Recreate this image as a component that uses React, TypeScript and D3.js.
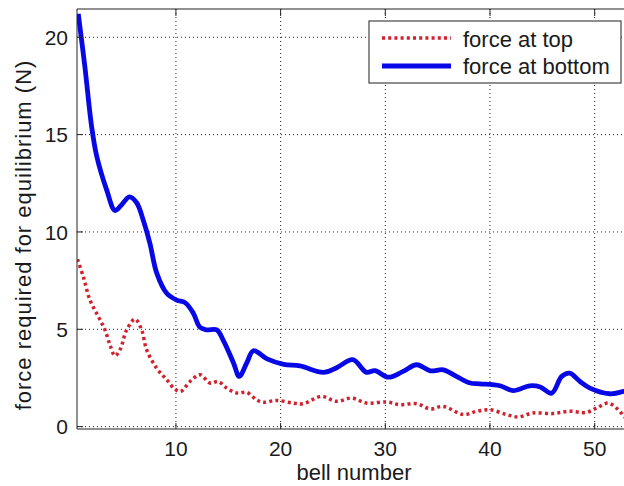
import * as d3 from 'd3';

// bell positions and forces
const bottomBell = [0.67, 1.3, 1.95, 2.43, 3.39, 4.18, 4.82, 5.55, 6.25, 6.88, 7.52, 8.16, 9.12, 10.07, 10.87, 11.66, 12.3, 12.94, 13.9, 14.5, 15.5, 16.05, 16.76, 17.4, 18.7, 20.3, 21.85, 24.1, 25.35, 26.9, 28.2, 29.0, 30.3, 31.7, 33.0, 34.3, 35.55, 36.8, 38.1, 39.05, 40.95, 42.2, 43.8, 44.8, 45.9, 46.85, 47.6, 48.6, 49.55, 51.45, 52.8, 53.4];
const bottomForce = [21.2, 18.5, 15.4, 13.9, 12.15, 11.1, 11.4, 11.8, 11.5, 10.6, 9.4, 7.9, 6.85, 6.5, 6.37, 5.83, 5.1, 4.97, 4.97, 4.46, 3.27, 2.58, 3.27, 3.9, 3.48, 3.2, 3.12, 2.79, 3.03, 3.44, 2.79, 2.88, 2.54, 2.84, 3.18, 2.87, 2.92, 2.58, 2.24, 2.2, 2.1, 1.85, 2.1, 2.04, 1.72, 2.58, 2.75, 2.32, 1.98, 1.69, 1.81, 1.85];

const topBell = [0.6, 1.15, 1.79, 2.58, 3.22, 3.7, 4.18, 4.66, 5.3, 6.09, 6.73, 7.2, 8.16, 9.12, 9.9, 10.45, 11.35, 12.3, 13.25, 14.05, 14.85, 15.8, 16.76, 17.7, 18.35, 19.6, 21.2, 22.17, 23.9, 25.35, 26.8, 28.2, 30.1, 31.4, 33.0, 34.3, 35.55, 37.45, 38.75, 40.0, 41.6, 42.7, 44.1, 46.0, 47.6, 49.2, 50.2, 51.3, 52.25, 52.8, 53.4];
const topForce = [8.6, 7.7, 6.5, 5.66, 4.97, 4.2, 3.64, 3.95, 4.97, 5.52, 4.97, 3.95, 3.0, 2.41, 1.93, 1.81, 2.32, 2.67, 2.24, 2.32, 1.98, 1.73, 1.76, 1.38, 1.25, 1.35, 1.21, 1.18, 1.55, 1.3, 1.47, 1.21, 1.27, 1.13, 1.18, 0.91, 1.04, 0.62, 0.79, 0.87, 0.62, 0.5, 0.7, 0.67, 0.79, 0.73, 0.96, 1.21, 0.87, 0.53, 0.3];

const xTicks = [10, 20, 30, 40, 50];
const yTicks = [0, 5, 10, 15, 20];
const legendLabels = ['force at top', 'force at bottom'];

const W = 624;
const H = 486;
const margin = { top: 9, right: -7, bottom: 57, left: 77 };
const innerW = W - margin.left - margin.right;
const innerH = H - margin.top - margin.bottom;

const font = 'Arial, "Liberation Sans", Helvetica, sans-serif';
const red = '#d2202c';
const blue = '#0808e6';

export default function App() {
  const x = d3.scaleLinear().domain([0.55, 53.47]).range([0, innerW]);
  const y = d3.scaleLinear().domain([-0.12, 21.45]).range([innerH, 0]);

  const line = d3.line<[number, number]>()
    .x(d => x(d[0]))
    .y(d => y(d[1]))
    .curve(d3.curveCatmullRom.alpha(0.5));

  const bottomPts = bottomBell.map((b, i) => [b, bottomForce[i]] as [number, number]);
  const topPts = topBell.map((b, i) => [b, topForce[i]] as [number, number]);

  const grid = { stroke: '#222', strokeWidth: 1, strokeDasharray: '1,3' };

  return (
    <svg width={W} height={H} style={{ position: 'absolute', left: 0, top: 0, background: '#fff' }}>
      <defs>
        <clipPath id="plot-clip">
          <rect x={0} y={0} width={innerW} height={innerH} />
        </clipPath>
      </defs>
      <g transform={`translate(${margin.left},${margin.top})`}>
        <rect width={innerW} height={innerH} fill="#fff" />

        {/* dotted grid */}
        {xTicks.map(t => (
          <line key={'gx' + t} x1={x(t)} x2={x(t)} y1={0} y2={innerH} {...grid} />
        ))}
        {yTicks.map(t => (
          <line key={'gy' + t} x1={0} x2={innerW} y1={y(t)} y2={y(t)} {...grid} />
        ))}

        {/* curves */}
        <g clipPath="url(#plot-clip)">
          <path d={line(topPts) ?? ''} fill="none" stroke={red} strokeWidth={3.5} strokeDasharray="3,3.2" />
          <path d={line(bottomPts) ?? ''} fill="none" stroke={blue} strokeWidth={4.8} strokeLinejoin="round" />
        </g>

        {/* box and inward ticks */}
        <line x1={0} x2={innerW} y1={0} y2={0} stroke="#222" />
        <line x1={0} x2={innerW} y1={innerH} y2={innerH} stroke="#222" />
        <line x1={0} x2={0} y1={0} y2={innerH} stroke="#222" />
        {xTicks.map(t => (
          <g key={'tx' + t}>
            <line x1={x(t)} x2={x(t)} y1={innerH} y2={innerH - 6} stroke="#222" />
            <line x1={x(t)} x2={x(t)} y1={0} y2={7} stroke="#222" />
            <text x={x(t)} y={innerH + 27} textAnchor="middle" fontFamily={font} fontSize={21} fill="#1a1a1a">{t}</text>
          </g>
        ))}
        {yTicks.map(t => (
          <g key={'ty' + t}>
            <line x1={0} x2={6} y1={y(t)} y2={y(t)} stroke="#222" />
            <text x={-9} y={y(t)} dy="0.36em" textAnchor="end" fontFamily={font} fontSize={21} fill="#1a1a1a">{t}</text>
          </g>
        ))}

        {/* axis titles */}
        <text x={innerW / 2} y={innerH + 51} textAnchor="middle" fontFamily={font} fontSize={22} fill="#1a1a1a">bell number</text>
        <text transform={`translate(${-46},${226}) rotate(-90)`} textAnchor="middle" fontFamily={font} fontSize={22} letterSpacing={1} fill="#1a1a1a">
          force required for equilibrium (N)
        </text>

        {/* legend */}
        <g transform={`translate(${369 - margin.left},${21 - margin.top})`}>
          <rect width={252} height={62} fill="#fff" stroke="#444" strokeWidth={1.2} />
          <line x1={13} x2={82} y1={17} y2={17} stroke={red} strokeWidth={3.5} strokeDasharray="3,3.2" />
          <line x1={13} x2={82} y1={45} y2={45} stroke={blue} strokeWidth={4.8} />
          <text x={94} y={26} fontFamily={font} fontSize={22} fill="#1a1a1a">{legendLabels[0]}</text>
          <text x={94} y={53} fontFamily={font} fontSize={22} fill="#1a1a1a">{legendLabels[1]}</text>
        </g>
      </g>
    </svg>
  );
}
